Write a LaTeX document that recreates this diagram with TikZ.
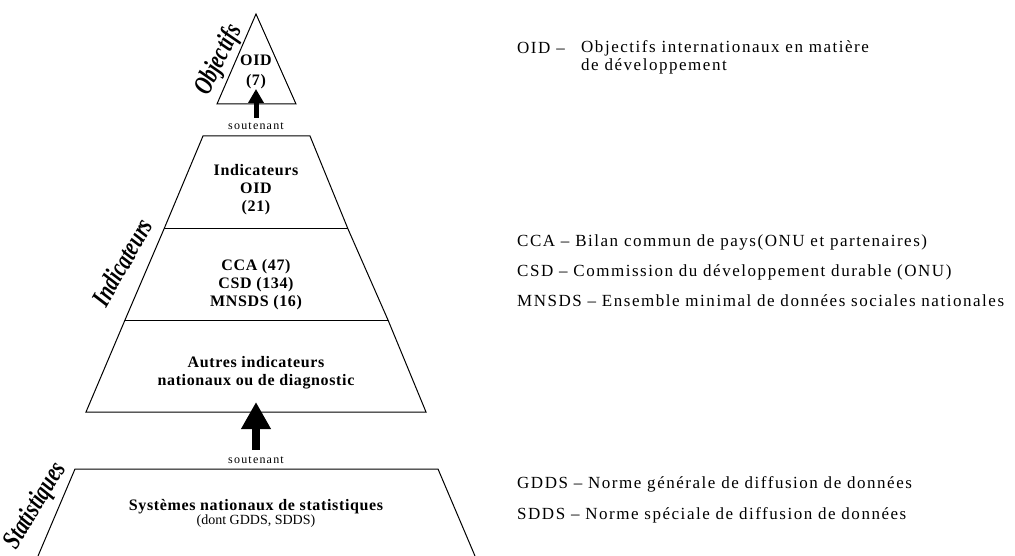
\documentclass[tikz,border=0pt]{standalone}
\usepackage{fontspec}
\setmainfont{Liberation Serif}
\newfontfamily\boxfont{Liberation Serif}[LetterSpace=4]
\newfontfamily\legfont{Liberation Serif}[LetterSpace=9]
\newfontfamily\supfont{Liberation Serif}[LetterSpace=10]
\newcommand{\narrow}[1]{\scalebox{0.75}[1]{#1}}
\usetikzlibrary{arrows.meta}

\begin{document}
\begin{tikzpicture}[x=1pt,y=-1pt,
    outline/.style={line width=1pt, line join=miter},
    level/.style={font=\boxfont\bfseries\fontsize{16}{18}\selectfont, align=center, inner sep=0pt},
    note/.style={font=\supfont\fontsize{12}{13}\selectfont, inner sep=0pt},
    legend/.style={font=\legfont\fontsize{17}{18}\selectfont, inner sep=0pt, anchor=west},
    side/.style={font=\bfseries\itshape\fontsize{27}{27}\selectfont, inner sep=0pt}]
  \useasboundingbox (0,0) rectangle (1015,556);
  % pyramid corners
  \coordinate (apex) at (256,14);
  \coordinate (al) at (217,104);
  \coordinate (ar) at (296,104);
  \coordinate (bl) at (203,136);
  \coordinate (br) at (310,136);
  \coordinate (cl) at (164,229);
  \coordinate (cr) at (348,229);
  \coordinate (dl) at (125,320);
  \coordinate (dr) at (388,320);
  \coordinate (el) at (86,412);
  \coordinate (er) at (426,412);
  \coordinate (fl) at (75,469);
  \coordinate (fr) at (438,469);
  \coordinate (gl) at (38,556);
  \coordinate (gr) at (475,556);
  \begin{scope}[outline]
    \draw (al) -- (apex) -- (ar) -- cycle;
    \draw (cl) -- (bl) -- (br) -- (cr);
    \draw (cl) -- (cr);
    \draw (cl) -- (dl);
    \draw (cr) -- (dr);
    \draw (dl) -- (dr);
    \draw (dl) -- (el) -- (er) -- (dr);
    \draw (gl) -- (fl) -- (fr) -- (gr);
  \end{scope}
  % texts inside
  \node[level] (goal) at (256,72) {OID\\[2pt](7)};
  \node[level] (ind) at (256,190) {Indicateurs\\OID\\(21)};
  \node[level] (sets) at (256,285) {CCA (47)\\CSD (134)\\MNSDS (16)};
  \node[level] (other) at (256,373) {Autres indicateurs\\nationaux ou de diagnostic};
  \node[level] (sys) at (256,507) {Systèmes nationaux de statistiques};
  \node[font=\fontsize{14}{15}\selectfont, inner sep=0pt] (sysnote) at (256,521) {(dont GDDS, SDDS)};
  % supports
  \coordinate (foot1) at (256,118);
  \coordinate (tip1) at (256,89);
  \coordinate (foot2) at (256,450);
  \coordinate (tip2) at (256,402);
  \draw[line width=5pt, -{Triangle[width=15pt,length=14pt]}] (foot1) -- (tip1);
  \draw[line width=8pt, -{Triangle[width=28pt,length=27pt]}] (foot2) -- (tip2);
  \node[note] (sup1) at (256,126) {soutenant};
  \node[note] (sup2) at (256,460) {soutenant};
  % side labels
  \node[side, rotate=63] (obj) at (219,60) {\narrow{Objectifs}};
  \node[side, rotate=60] (indic) at (122,262) {\narrow{Indicateurs}};
  \node[side, rotate=59] (stat) at (36,506) {\narrow{Statistiques}};
  % legend
  \node[legend] (oid) at (517,48) {OID –};
  \node[legend] (oiddef) at (581,48) {Objectifs internationaux en matière};
  \node[legend] (oiddev) at (oiddef.west |- 0,66) {de développement};
  \node[legend] (cca) at (517,242) {CCA – Bilan commun de pays(ONU et partenaires)};
  \node[legend] (csd) at (517,272) {CSD – Commission du développement durable (ONU)};
  \node[legend] (mnsds) at (517,301) {MNSDS – Ensemble minimal de données sociales nationales};
  \node[legend] (gdds) at (517,484) {GDDS – Norme générale de diffusion de données};
  \node[legend] (sdds) at (517,515) {SDDS – Norme spéciale de diffusion de données};
\end{tikzpicture}
\end{document}
